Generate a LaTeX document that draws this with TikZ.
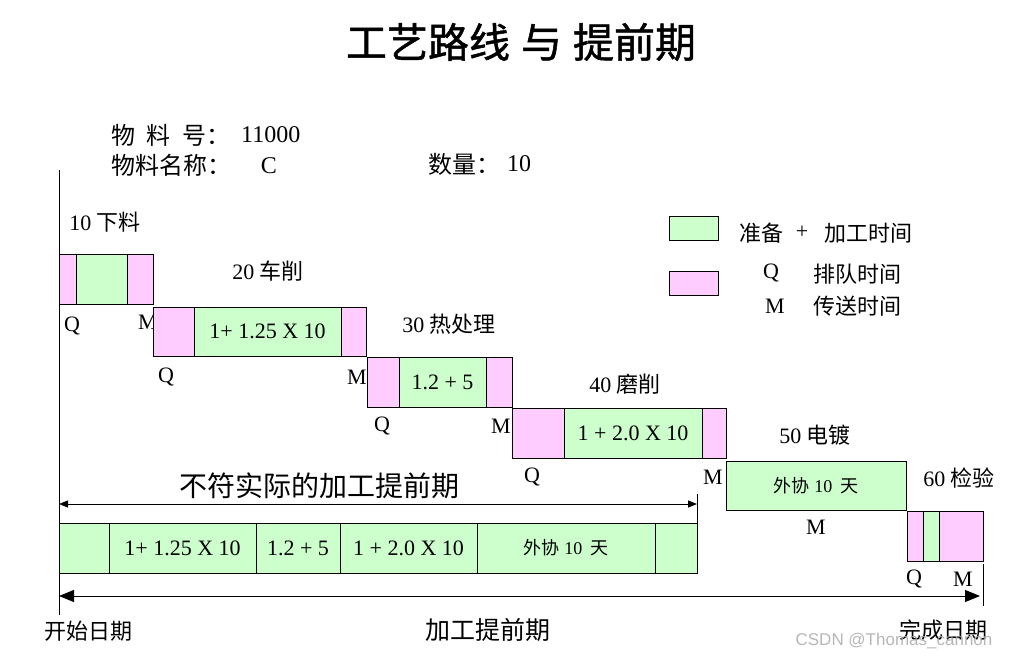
\documentclass[tikz,border=0pt]{standalone}
\usepackage{fontspec}
\setmainfont{Liberation Serif}
\newfontfamily\cjk{Noto Sans CJK SC}
\newfontfamily\cjkb{Noto Sans CJK SC}[FakeBold=1.2]
\newfontfamily\wmfont{Liberation Sans}
\usetikzlibrary{arrows.meta}
\definecolor{gfill}{HTML}{CCFFCC}
\definecolor{pfill}{HTML}{FFCCFF}
\newcommand\fs[1]{\fontsize{#1}{#1}\selectfont}
% name, style, x1, y1, x2, y2, text
\newcommand\cbox[7]{\node[#2, minimum width={(#5-#3)*1pt}, minimum height={(#6-#4)*1pt}] (#1) at (#3,#4) {#7};}
\begin{document}
\begin{tikzpicture}[x=1pt,y=-1pt,
  cell/.style={draw, line width=1pt, inner sep=0pt, outer sep=0pt, anchor=north west, font=\fs{22}},
  gc/.style={cell, fill=gfill},
  pc/.style={cell, fill=pfill},
  lab/.style={inner sep=0pt, font=\fs{22}},
  axis/.style={line width=1pt},
  ]
\useasboundingbox (0,0) rectangle (1025,658);
\fill[white] (0,0) rectangle (1025,658);

% title
\node[inner sep=0pt, font=\fs{41}\cjkb] (title) at (521,42) {工艺路线\hspace{11pt}与\hspace{11pt}提前期};

% header
\node[lab, anchor=west, font=\fs{24}\cjk] (h1) at (111,135) {物\hspace{11pt}料\hspace{12pt}号：};
\node[lab, anchor=west, font=\fs{24}] (h1n) at (241,135) {11000};
\node[lab, anchor=west, font=\fs{24}\cjk] (h2) at (111,165) {物料名称：};
\node[lab, font=\fs{24}] (h3) at (269,166) {C};
\node[lab, anchor=west, font=\fs{24}\cjk] (h4) at (428,164) {数量：};
\node[lab, anchor=west, font=\fs{24}] (h4n) at (507,164) {10};

% axes
\coordinate (vtop) at (59,170);
\coordinate (vbot) at (59,615);
\draw[axis] (vtop) -- (vbot);
\coordinate (rtop) at (983,564);
\coordinate (rbot) at (983,606);
\draw[axis] (rtop) -- (rbot);
\coordinate (mtop) at (697,494);
\coordinate (mbot) at (697,574);
\draw[axis] (mtop) -- (mbot);

% legend
\cbox{lg}{gc}{669}{216}{718}{240}{}
\cbox{lp}{pc}{669}{271}{718}{295}{}
\node[lab, anchor=west, font=\fs{22}\cjk] (lt1a) at (739,233) {准备};
\node[lab] (lplus) at (802,232) {+};
\node[lab, anchor=west, font=\fs{22}\cjk] (lt1b) at (824,233) {加工时间};
\node[lab] (lq) at (771,273) {Q};
\node[lab, anchor=west, font=\fs{22}\cjk] (lt2) at (813,274) {排队时间};
\node[lab] (lm) at (775,306) {M};
\node[lab, anchor=west, font=\fs{22}\cjk] (lt3) at (813,306) {传送时间};

% operation 10
\node[lab] (t10) at (105,222) {10 {\cjk 下料}};
\cbox{a1}{pc}{59}{254}{76}{304}{}
\cbox{a2}{gc}{76}{254}{127}{304}{}
\cbox{a3}{pc}{127}{254}{153}{304}{}
\node[lab] (q10) at (72,326) {Q};
\node[lab] (m10) at (148,322) {M};

% operation 20
\node[lab] (t20) at (268,271) {20 {\cjk 车削}};
\cbox{b1}{pc}{153}{307}{194}{356}{}
\cbox{b2}{gc}{194}{307}{341}{356}{1+ 1.25 X 10}
\cbox{b3}{pc}{341}{307}{366}{356}{}
\node[lab] (q20) at (166,377) {Q};
\node[lab] (m20) at (357,377) {M};

% operation 30
\node[lab] (t30) at (449,324) {30 {\cjk 热处理}};
\cbox{c1}{pc}{367}{357}{399}{407}{}
\cbox{c2}{gc}{399}{357}{486}{407}{1.2 + 5}
\cbox{c3}{pc}{486}{357}{512}{407}{}
\node[lab] (q30) at (382,426) {Q};
\node[lab] (m30) at (501,426) {M};

% operation 40
\node[lab] (t40) at (625,384) {40 {\cjk 磨削}};
\cbox{d1}{pc}{512}{408}{564}{458}{}
\cbox{d2}{gc}{564}{408}{702}{458}{1 + 2.0 X 10}
\cbox{d3}{pc}{702}{408}{726}{458}{}
\node[lab] (q40) at (532,477) {Q};
\node[lab] (m40) at (713,477) {M};

% operation 50
\node[lab] (t50) at (815,435) {50 {\cjk 电镀}};
\cbox{e1}{gc}{726}{461}{906}{510}{\fs{18}{\cjk 外协} 10\hspace{8pt}{\cjk 天}}
\node[lab] (m50) at (816,527) {M};

% operation 60
\node[lab] (t60) at (959,478) {60 {\cjk 检验}};
\cbox{f1}{pc}{907}{511}{923}{561}{}
\cbox{f2}{gc}{923}{511}{939}{561}{}
\cbox{f3}{pc}{939}{511}{983}{561}{}
\node[lab] (q60) at (914,579) {Q};
\node[lab] (m60) at (963,579) {M};

% wrong lead time
\node[lab, font=\fs{28}\cjk] (wrong) at (319,486) {不符实际的加工提前期};
\coordinate (wl) at (59,504);
\coordinate (wr) at (697,504);
\draw[line width=0.9pt, {Triangle[length=9pt,width=7pt]}-{Triangle[length=9pt,width=7pt]}] (wl) -- (wr);

% bar
\cbox{g1}{gc}{59}{523}{109}{573}{}
\cbox{g2}{gc}{109}{523}{256}{573}{1+ 1.25 X 10}
\cbox{g3}{gc}{256}{523}{340}{573}{1.2 + 5}
\cbox{g4}{gc}{340}{523}{477}{573}{1 + 2.0 X 10}
\cbox{g5}{gc}{477}{523}{655}{573}{\fs{18}{\cjk 外协} 10\hspace{8pt}{\cjk 天}}
\cbox{g6}{gc}{655}{523}{697}{573}{}

% real lead time
\coordinate (ll) at (59,596);
\coordinate (lr) at (980,596);
\draw[line width=1pt, {Triangle[length=15pt,width=12pt]}-{Triangle[length=15pt,width=12pt]}] (ll) -- (lr);
\node[lab, font=\fs{22}\cjk] (start) at (88,631) {开始日期};
\node[lab, font=\fs{25}\cjk] (lead) at (488,630) {加工提前期};
\node[lab, font=\fs{22}\cjk] (finish) at (943,630) {完成日期};

% watermark
\node[inner sep=0pt, font=\fs{17}\wmfont, text=gray!70, opacity=0.8] (wm) at (894,641) {CSDN @Thomas\_cannon};
\end{tikzpicture}
\end{document}
